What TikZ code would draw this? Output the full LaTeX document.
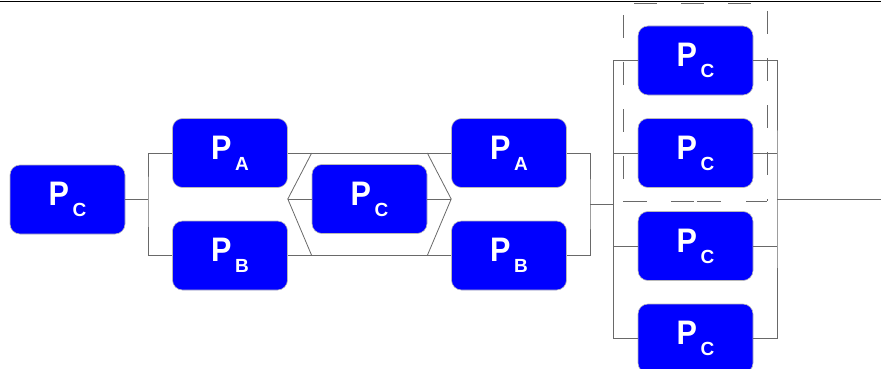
\documentclass[tikz,border=0pt]{standalone}
\usepackage{fontspec}
\setmainfont{Liberation Sans}
\definecolor{wirecol}{RGB}{105,105,105}
\definecolor{boxblue}{RGB}{0,0,255}
\newcommand{\plab}[1]{{\fontsize{34}{34}\selectfont\bfseries\scalebox{0.9}[1]{P}}\hspace{3.5pt}\raisebox{-11pt}{\fontsize{19}{19}\selectfont\bfseries #1}}
\tikzset{
  pbox/.style={rectangle, rounded corners=10pt, fill=boxblue, draw=gray!55, line width=0.6pt,
    minimum width=115pt, minimum height=69pt, inner sep=0pt, text=white},
  wire/.style={draw=wirecol, line width=0.8pt},
  dashwire/.style={draw=wirecol, line width=0.8pt}
}
\begin{document}
\begin{tikzpicture}[x=1pt,y=-1pt]
\useasboundingbox (0,0) rectangle (881,369);
% top border
\coordinate (tl) at (0,1.2);
\coordinate (tr) at (881,1.2);
\draw[black, line width=1.3pt] (tl) -- (tr);

% boxes
\node[pbox] (c1) at (67.5,199.5) {\plab{C}};
\node[pbox] (a1) at (230,153) {\plab{A}};
\node[pbox] (b1) at (230,255.5) {\plab{B}};
\node[pbox] (c2) at (369.5,199) {\plab{C}};
\node[pbox] (a2) at (509,153) {\plab{A}};
\node[pbox] (b2) at (509,255.5) {\plab{B}};
\node[pbox] (r1) at (695.5,60.5) {\plab{C}};
\node[pbox] (r2) at (695.5,153) {\plab{C}};
\node[pbox] (r3) at (695.5,246) {\plab{C}};
\node[pbox] (r4) at (695.5,338.5) {\plab{C}};

% first split
\coordinate (s1) at (148,199.5);
\draw[wire] (c1.east) -- (s1);
\draw[wire] (a1.west) -| (s1) |- (b1.west);

% long horizontals
\draw[wire] (a1.east) -- (a2.west);
\draw[wire] (b1.east) -- (b2.west);

% hexagon around middle box
\coordinate (hl) at (a1.east |- c2.west);
\coordinate (hr) at (a2.west |- c2.east);
\draw[wire] (c2.west |- a1.east) -- (hl) -- (c2.west |- b1.east);
\draw[wire] (hl) -- (c2.west);
\draw[wire] (c2.east |- a2.west) -- (hr) -- (c2.east |- b2.west);
\draw[wire] (c2.east) -- (hr);

% second join
\coordinate (s2) at (590,204);
\coordinate (s3) at (613.5,204);
\draw[wire] (a2.east) -| (s2) |- (b2.east);
\draw[wire] (s2) -- (s3);

% left bus
\draw[wire] (r1.west) -| (s3) |- (r4.west);
\draw[wire] (r2.west) -- (r2.west -| s3);
\draw[wire] (r3.west) -- (r3.west -| s3);

% right bus
\coordinate (s4) at (777,199);
\coordinate (out) at (881,199);
\draw[wire] (r1.east) -| (s4) |- (r4.east);
\draw[wire] (r2.east) -- (r2.east -| s4);
\draw[wire] (r3.east) -- (r3.east -| s4);
\draw[wire] (s4) -- (out);

% dashed frame
\coordinate (d1) at (623,3);
\coordinate (d2) at (767,3);
\coordinate (d3) at (767,201);
\coordinate (d4) at (623,201);
\draw[dashwire, dash pattern=on 23pt off 24pt, dash phase=35pt] (d1) -- (d4);
\draw[dashwire, dash pattern=on 23pt off 24pt, dash phase=39pt] (d2) -- (d3);
\draw[dashwire, dash pattern=on 23pt off 24pt, dash phase=36pt] (d1) -- (d2);
\draw[dashwire, dash pattern=on 24pt off 24pt on 23pt off 3pt on 24pt off 25pt on 30pt] (d4) -- (d3);
\end{tikzpicture}
\end{document}
